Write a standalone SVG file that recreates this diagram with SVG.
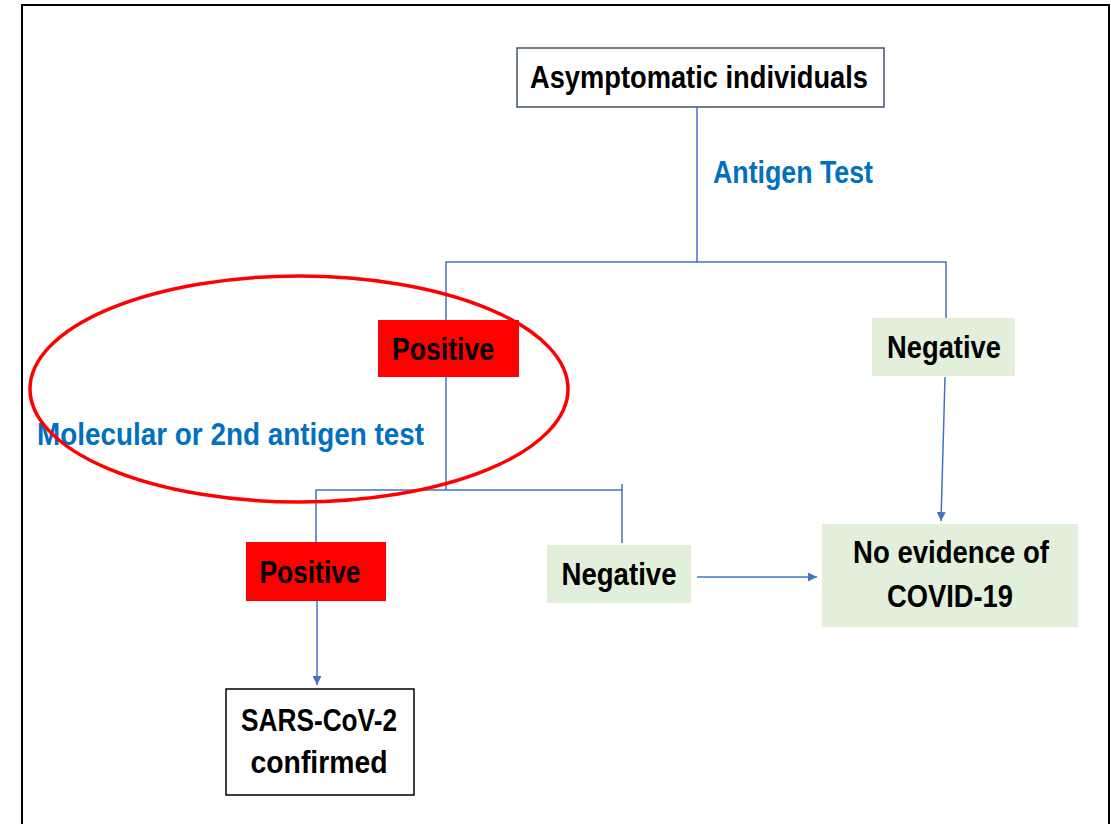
<svg xmlns="http://www.w3.org/2000/svg" width="1111" height="824" viewBox="0 0 1111 824">
<style>
.t{font-family:"Liberation Sans",Arial,sans-serif;font-weight:bold;font-size:31px;text-anchor:middle;fill:#000}
.b{fill:#0070c0;text-anchor:start}
.c{stroke:#4472c4;stroke-width:1.5;fill:none}
.red{fill:#ff0000}
.green{fill:#e2efda}
</style>
<defs>
<marker id="ah" viewBox="0 0 10 10" refX="10" refY="5" markerWidth="6" markerHeight="6" orient="auto" markerUnits="strokeWidth">
<path d="M0,0 L10,5 L0,10 z" fill="#4472c4"/>
</marker>
</defs>
<rect x="0" y="0" width="1111" height="824" fill="#fff"/>
<rect id="frame" x="22" y="5" width="1087" height="840" fill="none" stroke="#000" stroke-width="2"/>
<g id="connectors">
<path class="c" d="M697,107 V262"/>
<path class="c" d="M446,320 V262 H946 V318"/>
<path class="c" d="M446,377 V490"/>
<path class="c" d="M316,545 V490 H622 V543 M622,484 V490"/>
<path class="c" d="M945,377 L941,521" marker-end="url(#ah)"/>
<path class="c" d="M697,577 H817" marker-end="url(#ah)"/>
<path class="c" d="M317,601 V685" marker-end="url(#ah)"/>
</g>
<g id="n-asym">
<rect x="517" y="48" width="367" height="59" fill="#fff" stroke="#44546a" stroke-width="1.5"/>
<text class="t" x="699" y="88" textLength="338" lengthAdjust="spacingAndGlyphs">Asymptomatic individuals</text>
</g>
<text id="l-antigen" class="t b" x="713" y="183" textLength="160" lengthAdjust="spacingAndGlyphs">Antigen Test</text>
<g id="n-pos1">
<rect class="red" x="378" y="320" width="141" height="57"/>
<text class="t" x="443" y="360" textLength="102" lengthAdjust="spacingAndGlyphs">Positive</text>
</g>
<g id="n-neg1">
<rect class="green" x="872" y="318" width="143" height="58"/>
<text class="t" x="944" y="358" textLength="114" lengthAdjust="spacingAndGlyphs">Negative</text>
</g>
<text id="l-mol" class="t b" x="37" y="445" textLength="387" lengthAdjust="spacingAndGlyphs">Molecular or 2nd antigen test</text>
<ellipse id="highlight" cx="299" cy="389" rx="269" ry="113" fill="none" stroke="#ff0000" stroke-width="3.5"/>
<g id="n-pos2">
<rect class="red" x="246" y="542" width="140" height="59"/>
<text class="t" x="310" y="583" textLength="101" lengthAdjust="spacingAndGlyphs">Positive</text>
</g>
<g id="n-neg2">
<rect class="green" x="547" y="545" width="144" height="58"/>
<text class="t" x="619" y="585" textLength="115" lengthAdjust="spacingAndGlyphs">Negative</text>
</g>
<g id="n-noev">
<rect class="green" x="822" y="524" width="256" height="103"/>
<text class="t" x="951" y="563" textLength="196" lengthAdjust="spacingAndGlyphs">No evidence of</text>
<text class="t" x="950" y="607" textLength="126" lengthAdjust="spacingAndGlyphs">COVID-19</text>
</g>
<g id="n-sars">
<rect x="226" y="689" width="188" height="106" fill="#fff" stroke="#000" stroke-width="1.5"/>
<text class="t" x="319" y="731" textLength="156" lengthAdjust="spacingAndGlyphs">SARS-CoV-2</text>
<text class="t" x="319" y="773" textLength="137" lengthAdjust="spacingAndGlyphs">confirmed</text>
</g>
</svg>
